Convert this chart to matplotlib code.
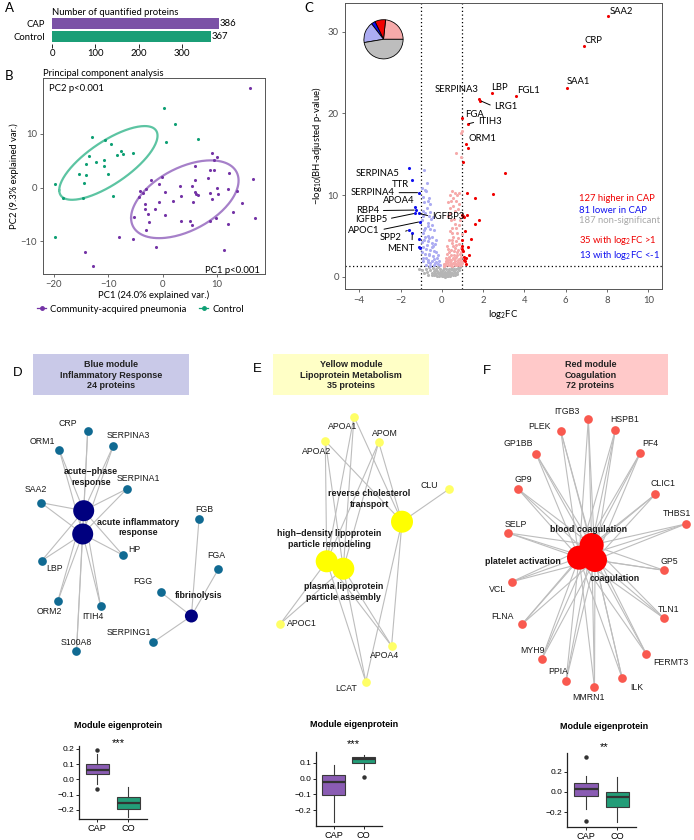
import numpy as np
import matplotlib
matplotlib.use('Agg')
import matplotlib.pyplot as plt
from matplotlib.patches import Rectangle
from matplotlib.lines import Line2D

plt.rcParams['font.family'] = ['Lato', 'DejaVu Sans']
plt.rcParams['mathtext.fontset'] = 'custom'
plt.rcParams['mathtext.rm'] = 'Lato'
plt.rcParams['mathtext.it'] = 'Lato:italic'

# ---------------- data ----------------
bar_groups = ['CAP', 'Control']
bar_counts = [386, 367]

pca_cap_pc1 = [16.0, 9.1, 10.0, 9.5, 5.9, 8.75, 9.4, 12.2, 16.6, 8.4, 5.9, 3.1, 5.4, 9.9, 12.05,
               -0.1, -2.1, -0.7, -4.2, -3.6, -3.1, 0.37, 5.9, 6.2, 6.5, 8.6, 10.2, 13.6, -4.35,
               3.3, 9.0, -0.7, 1.96, 5.6, 14.5, -3.2, -1.35, -3.25, -2.75, 0.4, -5.3, 12.9, 16.9,
               9.7, -2.5, 3.3, 5.1, 8.75, 5.4, 11.9, -3.0, -8.0, -5.45, -1.2, 11.2, -14.3, -12.8]
pca_cap_pc2 = [18.6, 6.5, 5.7, 5.2, 4.1, 3.3, 3.3, 2.65, 1.7, 1.8, 1.35, 0.37, 0.37, -0.1, -0.25,
               2.0, 1.4, 0.7, -0.7, -0.9, -0.3, -0.74, -0.74, -1.1, -1.3, -1.05, -1.2, -0.7, -1.8,
               -1.55, -2.1, -2.6, -2.5, -2.6, -2.8, -3.0, -3.9, -3.95, -4.8, -5.0, -5.5, -4.5, -5.7,
               -5.7, -6.4, -6.2, -6.2, -6.2, -7.0, -6.7, -7.9, -9.2, -9.6, -11.1, -11.6, -11.9, -14.6]
pca_ctrl_pc1 = [0.2, 2.3, 0.55, 6.4, -13.0, -10.5, -9.5, -13.6, -12.2, -10.7, -10.8, -14.1, -15.4,
                -14.0, -10.1, -14.4, -7.65, -7.2, -8.3, -5.45, -9.2, -14.6, -18.3, -19.8, -19.8]
pca_ctrl_pc2 = [14.9, 11.9, 8.4, 9.0, 9.4, 8.9, 8.1, 5.9, 4.7, 5.1, 4.0, 4.4, 2.6,
                2.3, 2.6, 0.9, 6.85, 6.3, 6.0, 6.5, -1.5, -1.9, -1.9, 0.7, -9.1]
pca_groups = ['Community-acquired pneumonia', 'Control']

# volcano: significant up with log2FC > 1
up_strong_names = ['SAA2', 'CRP', 'SAA1', 'LBP', 'FGL1', 'SERPINA3', 'LRG1', 'FGA', 'ITIH3', 'ORM1'] + [''] * 25
up_strong_fc = [8.06, 6.9, 6.04, 2.43, 3.59, 1.81, 1.86, 1.0, 1.25, 1.17,
                1.25, 1.03, 3.04, 1.23, 2.49, 1.62, 1.78, 1.6, 1.0, 1.04, 1.23, 1.12, 1.39, 1.0,
                1.27, 1.0, 1.02, 1.33, 1.05, 1.05, 1.12, 1.18, 1.0, 1.08, 1.15]
up_strong_p = [31.96, 28.2, 23.1, 22.45, 22.1, 21.75, 21.55, 19.4, 18.7, 16.25,
               15.75, 14.0, 12.7, 10.2, 10.1, 9.65, 6.9, 6.45, 7.6, 7.4, 7.5, 5.65, 4.65, 4.45,
               3.65, 3.4, 3.1, 2.6, 2.4, 2.05, 1.9, 1.55, 3.7, 7.25, 2.25]
down_strong_names = ['SERPINA5', 'TTR', 'SERPINA4', 'APOA4', 'RBP4', 'IGFBP5', 'IGFBP3', 'APOC1',
                     'SPP2', 'MENT', '', '', '']
down_strong_fc = [-1.61, -1.43, -1.11, -1.30, -1.27, -1.30, -1.11, -1.06, -1.61, -1.43, -1.11, -1.11, -1.06]
down_strong_p = [13.27, 11.84, 10.29, 8.49, 8.16, 7.76, 7.76, 6.73, 5.71, 5.3, 4.57, 3.67, 3.51]
up_weak_fc = [0.97, 0.94, 0.68, 0.94, 0.38, 0.48, 0.64, 0.74, 0.84, 0.54, 0.43, 0.67, 0.85, 0.38, 0.62,
              0.79, 0.30, 0.43, 0.59, 0.48, 0.69, 0.38, 0.56, 0.79, 0.33, 0.48, 0.67, 0.85, 0.95, 0.30,
              0.43, 0.59, 0.75, 0.89, 0.23, 0.34, 0.52, 0.70, 0.82, 0.95, 0.43, 0.62, 0.79, 0.92, 0.30,
              0.52, 0.69, 0.85, 0.98, 0.18, 0.39, 0.25, 0.6, 0.75, 0.2, 0.45, 0.65, 0.35, 0.55, 0.8,
              0.28, 0.5, 0.72, 0.88, 0.15, 0.4, 0.6, 0.9, 0.48, 0.62, 0.7, 0.4, 0.55, 0.3, 0.12, 0.22,
              0.58, 0.78, 0.66, 0.36, 0.95, 0.1, 0.46, 0.62, 0.8, 0.27, 0.92, 0.5, 0.72, 0.98, 0.85, 0.9]
up_weak_p = [17.8, 17.55, 15.2, 14.7, 10.0, 10.45, 10.2, 10.0, 10.3, 9.68, 9.24, 9.28, 8.95, 8.43, 8.1,
             8.3, 7.46, 6.89, 7.09, 6.0, 5.96, 5.55, 4.86, 4.78, 4.54, 4.1, 3.9, 4.0, 3.57, 3.4,
             3.24, 3.12, 3.08, 2.84, 2.76, 2.43, 2.35, 2.43, 2.19, 2.43, 2.03, 1.95, 1.83, 1.91, 1.75,
             1.62, 1.54, 1.42, 1.62, 1.62, 1.46, 2.1, 2.7, 2.6, 1.9, 2.6, 3.5, 3.0, 3.8, 3.3,
             1.45, 1.35, 1.4, 1.7, 1.4, 1.8, 1.7, 2.2, 5.3, 6.5, 4.4, 7.8, 8.7, 9.2, 1.55, 2.35,
             2.15, 2.05, 2.3, 2.2, 1.4, 1.35, 1.55, 1.38, 1.55, 3.8, 3.0, 4.5, 5.3, 5.2, 6.3, 7.0]
down_weak_fc = [-0.88, -0.82, -0.75, -0.89, -0.69, -0.56, -0.92, -0.80, -0.64, -0.52, -0.95, -0.69, -0.80,
                -0.59, -0.39, -0.89, -0.66, -0.46, -0.85, -0.69, -0.49, -0.31, -0.92, -0.75, -0.56, -0.36,
                -0.80, -0.64, -0.43, -0.23, -0.89, -0.69, -0.46, -0.26, -0.56, -0.36, -0.79, -0.95, -0.72,
                -0.6, -0.85, -0.5, -0.7, -0.3, -0.15, -0.4, -0.1, -0.6, -0.92, -0.55, -0.75, -0.35, -0.2,
                -0.5, -0.8, -0.65, -0.9, -0.45, -0.58, -0.62, -0.85, -0.98, -0.7, -0.3, -0.97, -0.18, -0.66, -0.42]
down_weak_p = [13.1, 10.6, 10.45, 9.72, 9.24, 8.91, 8.1, 7.86, 7.46, 7.05, 6.89, 6.57, 6.0,
               5.84, 5.67, 5.35, 5.03, 4.86, 4.46, 4.38, 4.13, 4.05, 3.65, 3.41, 3.24, 3.16,
               2.84, 2.6, 2.52, 2.35, 2.35, 2.03, 1.95, 1.79, 1.62, 1.46, 1.46, 3.0, 3.9,
               4.7, 5.7, 6.3, 8.4, 3.0, 1.9, 2.2, 1.45, 2.8, 1.9, 1.35, 2.25, 1.7, 2.7,
               3.6, 4.9, 6.2, 7.4, 7.3, 7.9, 9.6, 9.1, 10.8, 11.5, 4.5, 4.2, 1.5, 1.75, 3.8]
ns_fc = [-1.1, -0.95, -0.85, -0.75, -0.7, -0.65, -0.6, -0.55, -0.5, -0.45, -0.4, -0.4, -0.35, -0.3, -0.3,
         -0.25, -0.2, -0.2, -0.15, -0.1, -0.1, -0.05, 0.0, 0.0, 0.05, 0.05, 0.1, 0.1, 0.15, 0.15, 0.2,
         0.2, 0.25, 0.25, 0.3, 0.3, 0.35, 0.35, 0.4, 0.4, 0.45, 0.45, 0.5, 0.5, 0.55, 0.6, 0.6, 0.65,
         0.7, 0.75, 0.8, 0.85, 0.9, -0.02, 0.08, 0.12, -0.08, 0.18, 0.22, 0.28, -0.15, 0.32, -0.25,
         0.38, 0.42, -0.33, 0.55, 0.65, 0.02, -0.48, 0.72]
ns_p = [0.95, 0.85, 0.4, 1.0, 0.6, 0.2, 1.2, 0.8, 0.4, 1.1, 0.7, 0.15, 0.5, 1.0, 0.25,
        0.75, 0.4, 1.2, 0.1, 0.6, 0.9, 0.3, 0.05, 0.5, 0.8, 0.2, 0.4, 1.1, 0.0, 0.6, 0.3,
        0.9, 0.1, 0.5, 0.75, 0.2, 1.0, 0.4, 0.6, 0.1, 0.9, 0.3, 0.5, 1.2, 0.2, 0.7, 1.0, 0.4,
        0.9, 0.6, 1.1, 0.8, 1.2, 0.15, 0.05, 0.25, 0.2, 0.45, 0.15, 0.35, 0.45, 0.05, 0.1,
        0.25, 0.45, 0.85, 0.85, 0.15, 0.65, 0.2, 0.3]
n_higher, n_lower, n_ns = 127, 81, 187
n_up_strong, n_down_strong = 35, 13

# modules (network layout + eigenprotein box statistics)
mod_titles = ['Blue module\nInflammatory Response\n24 proteins',
              'Yellow module\nLipoprotein Metabolism\n35 proteins',
              'Red module\nCoagulation\n72 proteins']
D_genes = ['CRP', 'ORM1', 'SERPINA3', 'SERPINA1', 'SAA2', 'HP', 'LBP', 'ORM2', 'ITIH4', 'S100A8',
           'FGB', 'FGA', 'FGG', 'SERPING1']
D_gx = [87.7, 59.3, 113.3, 126.7, 41, 122.7, 41.7, 57.9, 100.6, 76.5, 199, 218.3, 161, 153.5]
D_gy = [430.7, 450, 445.7, 489, 502.7, 555, 560.7, 600.7, 606, 651, 519.3, 569.3, 592.3, 642]
D_lx = [68.3, 42.7, 128.3, 138.3, 36, 134.3, 55, 49.8, 92.6, 76.5, 204.3, 216.7, 143.3, 129]
D_ly = [424, 441, 436, 478.3, 490, 550, 568.3, 611.7, 616.7, 642.3, 510, 555.7, 581.7, 632.7]
D_terms = ['acute\u2212phase\nresponse', 'acute inflammatory\nresponse', 'fibrinolysis']
D_tx = [83.7, 82.7, 191.4]
D_ty = [510.7, 534, 616]
D_tlx = [90.7, 138.3, 199]
D_tly = [477.3, 527.5, 595.7]
D_tsize = [21, 21, 13]
D_edges = {0: ['CRP', 'ORM1', 'SERPINA3', 'SERPINA1', 'SAA2', 'HP', 'LBP', 'ORM2', 'ITIH4', 'S100A8'],
           1: ['CRP', 'ORM1', 'SERPINA3', 'SERPINA1', 'SAA2', 'HP', 'LBP', 'ORM2', 'ITIH4', 'S100A8'],
           2: ['FGB', 'FGA', 'FGG', 'SERPING1']}

E_genes = ['APOA1', 'APOM', 'APOA2', 'CLU', 'APOC1', 'APOA4', 'LCAT']
E_gx = [354, 378.7, 325.3, 448.7, 280.4, 391.6, 365.8]
E_gy = [416.7, 442.3, 441, 489.3, 623.7, 646, 681.7]
E_lx = [342.7, 385.3, 316.7, 429, 302, 385, 346.2]
E_ly = [426.7, 433.3, 451, 485.7, 623.7, 656, 688.3]
E_terms = ['reverse cholesterol\ntransport', 'high\u2212density lipoprotein\nparticle remodeling',
           'plasma lipoprotein\nparticle assembly']
E_tx = [402, 326.7, 343.3]
E_ty = [521.7, 561.3, 568.7]
E_tlx = [369.3, 329, 343.5]
E_tly = [498.8, 539, 592]
E_tsize = [22, 22, 22]
E_edges = {0: ['APOA1', 'APOA2', 'APOM', 'CLU', 'APOA4', 'LCAT'],
           1: ['APOA1', 'APOA2', 'APOM', 'APOC1', 'APOA4', 'LCAT'],
           2: ['APOA1', 'APOA2', 'APOM', 'APOC1', 'APOA4', 'LCAT']}

F_genes = ['ITGB3', 'PLEK', 'HSPB1', 'GP1BB', 'PF4', 'GP9', 'CLIC1', 'SELP', 'THBS1', 'GP5',
           'VCL', 'FLNA', 'TLN1', 'MYH9', 'FERMT3', 'PPIA', 'ILK', 'MMRN1']
F_gx = [588.3, 560.7, 615.3, 536.3, 640.3, 518.3, 655.3, 508.3, 685.7, 664,
        511.8, 522, 664, 541.6, 646.1, 566, 622.1, 594.5]
F_gy = [419, 430.7, 430, 454.3, 452.7, 489.3, 494.3, 533, 524, 570.3,
        581.7, 624.3, 618.3, 659.3, 653.7, 681, 678, 687.3]
F_lx = [567.3, 540, 625, 518.3, 650, 523.3, 663, 515.7, 677.3, 669,
        497.5, 502.9, 668.8, 532.2, 671, 558.5, 636.4, 588.3]
F_ly = [411.7, 426.7, 419.3, 443.3, 443.3, 480, 483.3, 524.3, 514, 561,
        589.3, 616.7, 609.3, 650.7, 662.7, 671.7, 687.3, 697.3]
F_terms = ['blood coagulation', 'platelet activation', 'coagulation']
F_tx = [591.7, 579, 595]
F_ty = [545, 557.7, 560]
F_tlx = [588.3, 523.3, 615]
F_tly = [529, 561.7, 578.3]
F_tsize = [24, 24, 24]
F_edges = {k: list(F_genes) for k in range(3)}

box_groups = ['CAP', 'CO']
D_box = [dict(med=0.061, q1=0.033, q3=0.098, whislo=-0.03, whishi=0.165, fliers=[0.19, -0.064]),
         dict(med=-0.153, q1=-0.193, q3=-0.114, whislo=-0.245, whishi=-0.048, fliers=[])]
E_box = [dict(med=-0.021, q1=-0.106, q3=0.021, whislo=-0.274, whishi=0.087, fliers=[]),
         dict(med=0.124, q1=0.102, q3=0.141, whislo=0.062, whishi=0.151, fliers=[0.013])]
F_box = [dict(med=0.026, q1=-0.036, q3=0.091, whislo=-0.163, whishi=0.156, fliers=[0.344, -0.28]),
         dict(med=-0.052, q1=-0.143, q3=0.0, whislo=-0.29, whishi=0.143, fliers=[])]
box_signif = ['***', '***', '**']

# ---------------- style ----------------
PURPLE = '#7B52A6'
GREEN = '#1B9E77'
PT_PURPLE = '#7433A6'
PT_GREEN = '#0E9F74'
EL_PURPLE = '#A680C9'
EL_GREEN = '#5CC4A2'
RED = '#F00000'
BLUE = '#1010F0'
PINK = '#F6AAAA'
LAV = '#ACACF2'
GREY = '#B5B5B5'
FRAME = '#555555'
TICKC = '#4D4D4D'
NF = ['Liberation Sans', 'DejaVu Sans']
ELLIPSE_PROB = 0.60

W, H = 694, 840
fig = plt.figure(figsize=(W / 100, H / 100), dpi=100)


def ax_px(x0, y0, x1, y1, **kw):
    return fig.add_axes([x0 / W, 1 - y1 / H, (x1 - x0) / W, (y1 - y0) / H], **kw)


def s_px(d):
    return (d * 0.72) ** 2


ov = ax_px(0, 0, W, H)
ov.set_xlim(0, W)
ov.set_ylim(H, 0)
ov.axis('off')

# panel letters
for let, x, y, fam in [('A', 5, 7.5, None), ('B', 5, 76.5, None), ('C', 304, 8, None),
                       ('D', 13.3, 373.3, NF), ('E', 253.3, 369.3, NF), ('F', 483.3, 371, NF)]:
    kw = {} if fam is None else dict(family=fam)
    ov.text(x, y, let, fontsize=9.5, ha='left', va='center', **kw)

# ---------------- A ----------------
axA = ax_px(52.3, 17.0, 224.8, 43.5)
ypos = [1, 0]
axA.barh(ypos, bar_counts, height=0.85, color=[PURPLE, GREEN])
axA.set_xlim(0, 400)
axA.set_ylim(-0.52, 1.52)
for s in axA.spines.values():
    s.set_visible(False)
axA.set_yticks(ypos)
axA.set_yticklabels(bar_groups, fontsize=6.8)
axA.tick_params(axis='y', length=0, pad=5)
axA.set_xticks([0, 100, 200, 300])
axA.tick_params(axis='x', length=3, width=0.6, pad=1, labelsize=6.8)
for yv, v in zip(ypos, bar_counts):
    axA.text(v + 3, yv, str(v), va='center', ha='left', fontsize=6.8)
axA.set_title('Number of quantified proteins', loc='left', fontsize=6.8, pad=1.5)

# ---------------- B ----------------
axB = ax_px(42.7, 78.3, 265.3, 274.0)
r = np.sqrt(-2 * np.log(1 - ELLIPSE_PROB))
theta = np.linspace(-np.pi, np.pi, 200)
circle = np.column_stack([np.cos(theta), np.sin(theta)])
for xs, ys, cpt, cel in [(pca_cap_pc1, pca_cap_pc2, PT_PURPLE, EL_PURPLE),
                         (pca_ctrl_pc1, pca_ctrl_pc2, PT_GREEN, EL_GREEN)]:
    xs = np.asarray(xs); ys = np.asarray(ys)
    sigma = np.cov(np.vstack([xs, ys]))
    L = np.linalg.cholesky(sigma)
    ell = circle @ L.T * r + np.array([xs.mean(), ys.mean()])
    axB.plot(ell[:, 0], ell[:, 1], color=cel, lw=1.6, zorder=2)
    axB.scatter(xs, ys, s=5, color=cpt, lw=0, zorder=3)
axB.set_xlim(-22.02, 18.83)
axB.set_ylim(-16.04, 20.33)
axB.set_xticks([-20, -10, 0, 10])
axB.set_yticks([-10, 0, 10])
for s in axB.spines.values():
    s.set_color(FRAME); s.set_linewidth(0.7)
axB.tick_params(length=2.5, width=0.6, color=FRAME, labelcolor=TICKC, labelsize=6.8, pad=1.5)
axB.set_xlabel('PC1 (24.0% explained var.)', fontsize=6.8)
axB.xaxis.set_label_coords(0.5, -0.108)
axB.xaxis.label.set_va('center')
axB.set_ylabel('PC2 (9.3% explained var.)', fontsize=6.8)
axB.yaxis.set_label_coords(-0.129, 0.5)
axB.yaxis.label.set_va('center')
axB.text(-20.8, 18.5, 'PC2 p<0.001', fontsize=6.8, va='center', ha='left')
axB.text(17.85, -15.3, 'PC1 p<0.001', fontsize=6.8, va='center', ha='right')
axB.set_title('Principal component analysis', loc='left', fontsize=6.8, pad=2)
handles = [Line2D([0], [0], color=c, lw=0.9, marker='o', markersize=2.5) for c in (PT_PURPLE, PT_GREEN)]
fig.legend(handles, pca_groups, loc='center left', bbox_to_anchor=(37 / W, 1 - 309 / H), ncol=2,
           frameon=False, fontsize=6.8, handlelength=1.0, columnspacing=1.3, handletextpad=0.4,
           borderaxespad=0, borderpad=0)

# ---------------- C ----------------
axC = ax_px(345, 2.7, 661.7, 289.3)
axC.scatter(ns_fc, ns_p, s=5, color=GREY, lw=0, zorder=2)
axC.scatter(up_weak_fc, up_weak_p, s=5, color=PINK, lw=0, zorder=3)
axC.scatter(down_weak_fc, down_weak_p, s=5, color=LAV, lw=0, zorder=3)
axC.scatter(up_strong_fc, up_strong_p, s=5, color=RED, lw=0, zorder=4)
axC.scatter(down_strong_fc, down_strong_p, s=5, color=BLUE, lw=0, zorder=4)
for xv in (-1, 1):
    axC.axvline(xv, color='black', ls=(0, (1, 2)), lw=0.9, zorder=1)
axC.axhline(-np.log10(0.05), color='black', ls=(0, (1, 2)), lw=0.9, zorder=1)
axC.set_xlim(-4.69, 10.65)
axC.set_ylim(-1.54, 33.54)
axC.set_xticks(np.arange(-4, 11, 2))
axC.set_yticks([0, 10, 20, 30])
for s in axC.spines.values():
    s.set_color(FRAME); s.set_linewidth(0.7)
axC.tick_params(length=2.5, width=0.6, color=FRAME, labelcolor=TICKC, labelsize=6.8, pad=2)
axC.set_xlabel('log$_2$FC', fontsize=6.8)
axC.xaxis.set_label_coords(0.5, -0.088)
axC.xaxis.label.set_va('center')
axC.set_ylabel('\u2212log$_{10}$(BH-adjusted p-value)', fontsize=6.8)
axC.yaxis.set_label_coords(-0.088, 0.5)
axC.yaxis.label.set_va('center')

lab_layout = {
    'SAA2': (8.12, 32.5, 'left', False), 'CRP': (6.93, 28.9, 'left', False),
    'SAA1': (6.05, 23.9, 'left', False), 'LBP': (2.38, 23.2, 'left', False),
    'FGL1': (3.67, 22.8, 'left', False), 'SERPINA3': (1.77, 22.9, 'right', False),
    'LRG1': (2.54, 20.8, 'left', True), 'FGA': (1.12, 19.9, 'left', False),
    'ITIH3': (1.74, 19.0, 'left', True), 'ORM1': (1.28, 16.9, 'left', False),
    'SERPINA5': (-2.03, 12.65, 'right', False), 'TTR': (-2.01, 11.3, 'center', False),
    'SERPINA4': (-2.27, 10.29, 'right', True), 'APOA4': (-2.08, 9.3, 'center', False),
    'RBP4': (-3.03, 8.1, 'right', True), 'IGFBP5': (-2.64, 7.06, 'right', True),
    'IGFBP3': (-0.49, 7.35, 'left', True), 'APOC1': (-3.0, 5.71, 'right', True),
    'SPP2': (-2.48, 4.82, 'center', True), 'MENT': (-2.0, 3.47, 'center', True),
}
relpos = {'left': (0, 0.5), 'right': (1, 0.5), 'center': (0.5, 0.5)}
for names, fcs, ps in [(up_strong_names, up_strong_fc, up_strong_p),
                       (down_strong_names, down_strong_fc, down_strong_p)]:
    for nm, xv, yv in zip(names, fcs, ps):
        if not nm:
            continue
        tx, ty, ha, line = lab_layout[nm]
        if line:
            rp = relpos[ha]
            if nm in ('SPP2', 'MENT'):
                rp = (0.92, 0.95)
            axC.annotate(nm, (xv, yv), xytext=(tx, ty), ha=ha, va='center', fontsize=6.8, zorder=5,
                         arrowprops=dict(arrowstyle='-', lw=0.7, color='black', shrinkA=1, shrinkB=1,
                                         relpos=rp))
        else:
            axC.text(tx, ty, nm, ha=ha, va='center', fontsize=6.8, zorder=5)

leg_txt = [(f'{n_higher} higher in CAP', RED, 9.55), (f'{n_lower} lower in CAP', BLUE, 8.16),
           (f'{n_ns} non-significant', '#A8A8A8', 6.85),
           (f'{n_up_strong} with log$_2$FC >1', RED, 4.49),
           (f'{n_down_strong} with log$_2$FC <-1', BLUE, 2.62)]
for t, c, yv in leg_txt:
    axC.text(6.64, yv, t, color=c, fontsize=6.8, va='center', ha='left')

axP = ax_px(359, 14.8, 408, 63.8)
pie_vals = [n_higher - n_up_strong, n_up_strong, n_down_strong, n_lower - n_down_strong, n_ns]
axP.pie(pie_vals, colors=[PINK, RED, BLUE, LAV, '#BDBDBD'], startangle=0, counterclock=True,
        wedgeprops=dict(edgecolor='black', linewidth=0.6))
axP.set_aspect('equal')

# ---------------- D/E/F networks ----------------
box_specs = [(33, 189, '#C9C9E8'), (273.3, 429, '#FFFFC6'), (512.3, 668.3, '#FFC9C9')]
for (x0, x1, col), title in zip(box_specs, mod_titles):
    ov.add_patch(Rectangle((x0, 354), x1 - x0, 41, facecolor=col, edgecolor='none', zorder=0))
    ov.text((x0 + x1) / 2, 375.2, title, ha='center', va='center', fontsize=6.5, weight='bold',
            family=NF, linespacing=1.22, color='#222222')

nets = [
    (D_genes, D_gx, D_gy, D_lx, D_ly, D_terms, D_tx, D_ty, D_tlx, D_tly, D_tsize, D_edges, '#106A92', '#00007F'),
    (E_genes, E_gx, E_gy, E_lx, E_ly, E_terms, E_tx, E_ty, E_tlx, E_tly, E_tsize, E_edges, '#FFFF66', '#FFFF00'),
    (F_genes, F_gx, F_gy, F_lx, F_ly, F_terms, F_tx, F_ty, F_tlx, F_tly, F_tsize, F_edges, '#F9594F', '#FF0000'),
]
for (genes, gx, gy, lx, ly, terms, tx, ty, tlx, tly, tsz, edges, gcol, tcol) in nets:
    idx = {g: i for i, g in enumerate(genes)}
    for k, gl in edges.items():
        for g in gl:
            i = idx[g]
            ov.plot([tx[k], gx[i]], [ty[k], gy[i]], color='#BDBDBD', lw=0.8, zorder=1,
                    solid_capstyle='butt')
    ov.scatter(gx, gy, s=s_px(8.7), color=gcol, lw=0, zorder=2)
    ov.scatter(tx, ty, s=[s_px(d) for d in tsz], color=tcol, lw=0, zorder=2)
    for g, x, y in zip(genes, lx, ly):
        ov.text(x, y, g, ha='center', va='center', fontsize=6.3, family=NF, color='#1A1A1A', zorder=3)
    for t, x, y in zip(terms, tlx, tly):
        ov.text(x, y, t, ha='center', va='center', fontsize=6.4, family=NF, weight='bold',
                color='#1A1A1A', linespacing=1.25, zorder=3)

# ---------------- eigenprotein boxplots ----------------
box_axes = [((79.2, 746, 146.9, 819.3), (-0.262, 0.218), [-0.2, -0.1, 0.0, 0.1, 0.2], D_box, 118.0, 725.0, 742.7),
            ((316, 751.7, 381.8, 826), (-0.302, 0.172), [-0.2, -0.1, 0.0, 0.1], E_box, 353.8, 724.3, 744.0),
            ((567.4, 753.3, 636.4, 826.7), (-0.339, 0.378), [-0.2, 0.0, 0.2], F_box, 603.9, 726.7, 746.7)]
for (rect, ylim, yt, stats, cx, ty_title, ty_sig), sig in zip(box_axes, box_signif):
    ax = ax_px(*rect)
    st = [dict(s, label=g) for s, g in zip(stats, box_groups)]
    bp = ax.bxp(st, positions=[1, 2], widths=0.75, patch_artist=True, showcaps=False,
                boxprops=dict(edgecolor='#3A3A3A', linewidth=0.8),
                medianprops=dict(color='#333333', linewidth=1.6),
                whiskerprops=dict(color='#3A3A3A', linewidth=0.8),
                flierprops=dict(marker='o', markerfacecolor='#333333', markeredgecolor='none', markersize=3.2))
    for patch, c in zip(bp['boxes'], ['#8A5CB3', '#239D78']):
        patch.set_facecolor(c)
    ax.set_xlim(0.42, 2.6)
    ax.set_ylim(*ylim)
    ax.set_yticks(yt)
    ax.set_yticklabels([f'{v:.1f}'.replace('-', '\u2212') for v in yt])
    ax.spines['top'].set_visible(False)
    ax.spines['right'].set_visible(False)
    for s in ('left', 'bottom'):
        ax.spines[s].set_linewidth(0.9)
        ax.spines[s].set_color('#222222')
    ax.tick_params(length=2, width=0.6, labelsize=6.0, pad=1.5)
    for lbl in ax.get_xticklabels() + ax.get_yticklabels():
        lbl.set_family(NF)
    ax.tick_params(axis='x', labelsize=6.6)
    ax.set_facecolor('none')
    ov.text(cx, ty_title, 'Module eigenprotein', ha='center', va='center', fontsize=6.5,
            weight='bold', family=NF)
    ov.text(cx, ty_sig, sig, ha='center', va='center', fontsize=8, family=NF)

fig.savefig('out.png', dpi=100)
